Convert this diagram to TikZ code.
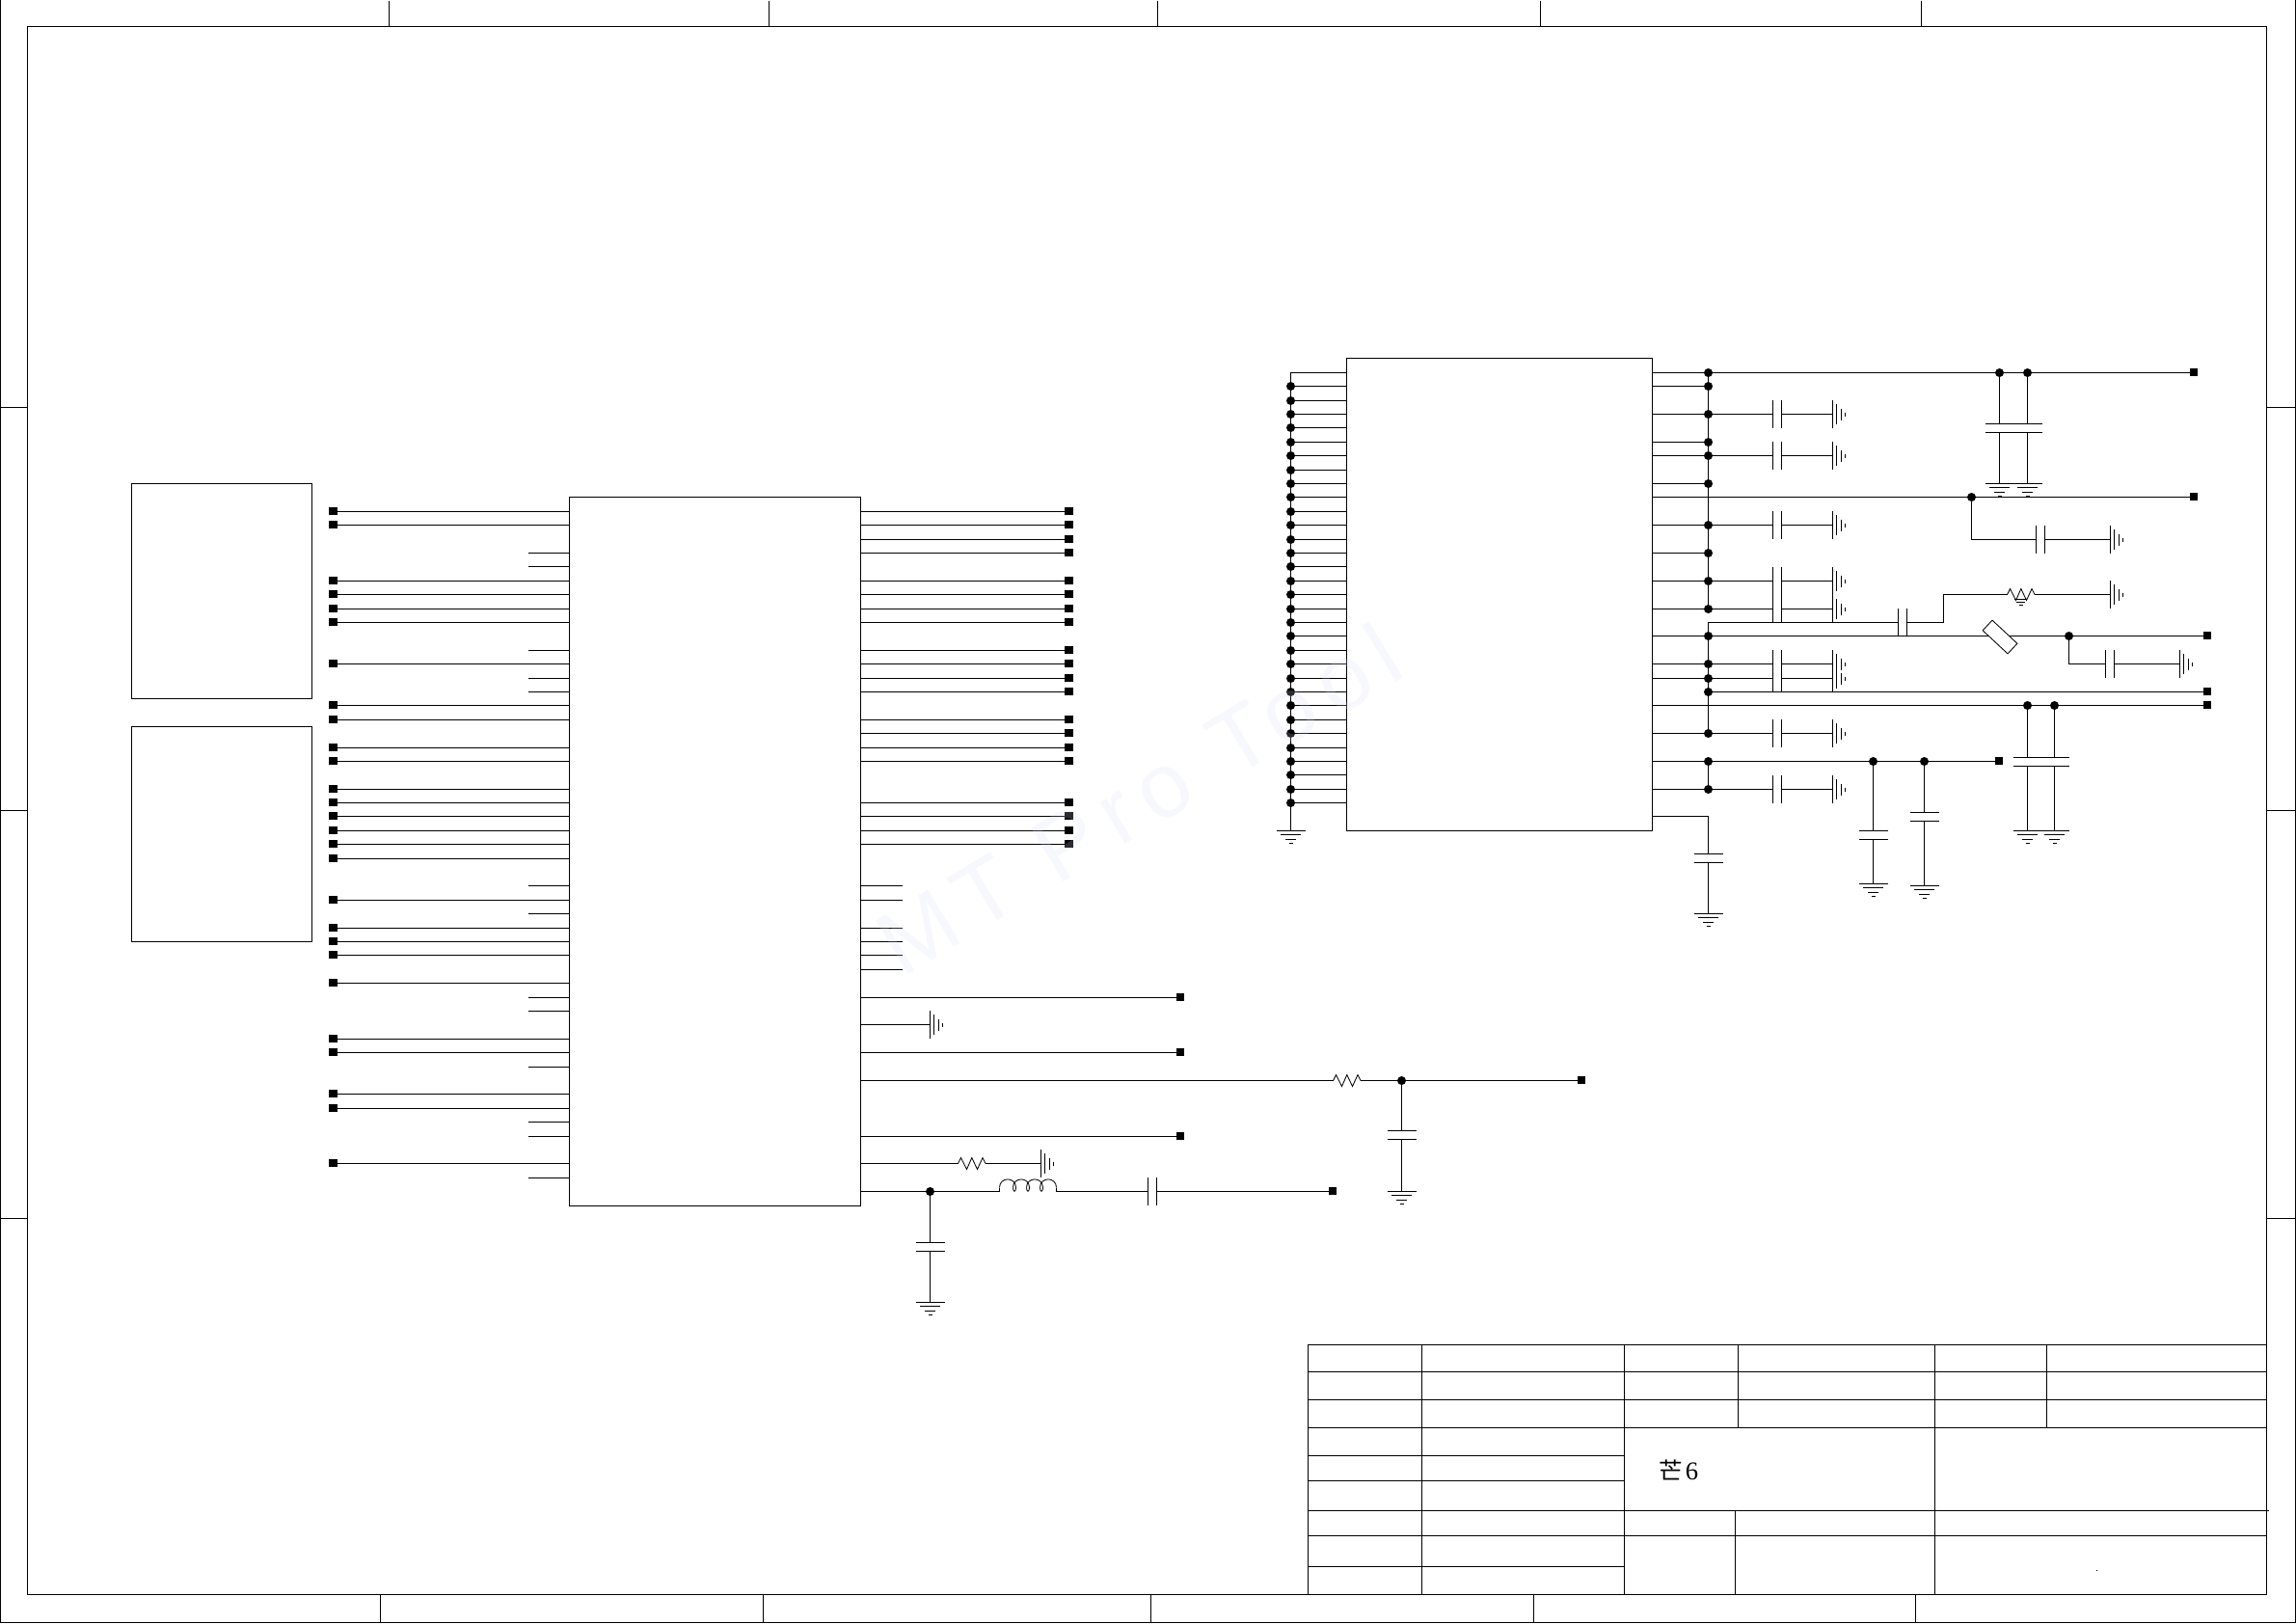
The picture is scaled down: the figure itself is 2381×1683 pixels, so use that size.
\documentclass[tikz,border=0pt]{standalone}
\usepackage{fontspec}
\setmainfont{Liberation Serif}
\newfontfamily\cjkfont{Noto Sans CJK SC}
\newfontfamily\wmfont[LetterSpace=14]{Liberation Sans}
\definecolor{wmblue}{RGB}{215,220,245}
\tikzset{
  wire/.style={line width=.6pt},
  thinw/.style={line width=.42pt},
  chip/.style={draw,line width=.6pt,inner sep=0pt,outer sep=0pt},
  termbig/.style={fill=black,inner sep=0pt,outer sep=0pt,minimum width=4.5pt,minimum height=4pt},
  term/.style={fill=black,inner sep=0pt,outer sep=0pt,minimum width=4pt,minimum height=4pt},
  junc/.style={circle,fill=black,inner sep=0pt,outer sep=0pt,minimum size=4.5pt},
}
% horizontal series capacitor: name, left-plate x, y  (coordinates name-l / name-r)
\newcommand\hcapx[3]{\coordinate (#1-l) at (#2,#3);\coordinate (#1-r) at ({#2+9},#3);
  \draw[wire,shift={(#2,#3)}] (0,-14.5)--(0,14.5) (9,-14.5)--(9,14.5);}
% vertical capacitor: name, x, top-plate y, plate gap
\newcommand\vcapx[4]{\coordinate (#1-t) at (#2,#3);\coordinate (#1-b) at (#2,{#3+#4});
  \draw[wire,shift={(#2,#3)}] (-15,0)--(15,0) (-15,#4)--(15,#4);}
% ground symbols
\newcommand\gndr[3]{\coordinate (#1) at (#2,#3);
  \draw[wire,shift={(#2,#3)}] (0,-14.5)--(0,14.5) (4,-10.5)--(4,10.5) (9,-6)--(9,6) (13,-2)--(13,2);}
\newcommand\gndd[3]{\coordinate (#1) at (#2,#3);
  \draw[wire,shift={(#2,#3)}] (-15,0)--(15,0) (-10.5,4)--(10.5,4) (-5.5,9)--(5.5,9) (-2,13)--(2,13);}
% zigzag resistor: name, left x, y
\newcommand\resx[3]{\coordinate (#1-l) at (#2,#3);\coordinate (#1-r) at ({#2+28.5},#3);
  \draw[thinw,shift={(#2,#3)}] (0,0)--(3,-6)--(9,6)--(14.3,-6)--(20,6)--(25.5,-6)--(28.5,0);}
\begin{document}
\begin{tikzpicture}[x=.5pt,y=-.5pt]
\useasboundingbox (0,0) rectangle (2381,1683);
\begin{scope}[shift={(0.5,0.5)}]
% ---------- frame
\draw[wire] (0,-1)--(0,1682)--(2380,1682)--(2380,-1);
\node[chip,minimum width=1161pt,minimum height=813pt] (frame) at (1189,840) {};
\foreach \x in {403,797,1200,1597,1992} \draw[wire] (\x,0)--(\x,27);
\foreach \x in {394,791,1193,1590,1986} \draw[wire] (\x,1653)--(\x,1682);
\foreach \y in {422,840,1263} {\draw[wire] (0,\y)--(28,\y); \draw[wire] (2350,\y)--(2380,\y);}
% ---------- left boxes and main chip
\node[chip,minimum width=93.5pt,minimum height=111.5pt] (boxa) at (229.5,612.5) {};
\node[chip,minimum width=93.5pt,minimum height=111.5pt] (boxb) at (229.5,864.5) {};
\node[chip,minimum width=151pt,minimum height=367.5pt] (ica) at (741,882.5) {};
\node[chip,minimum width=158.5pt,minimum height=245pt] (icb) at (1554.5,616) {};
% left side of main chip
\foreach \y in {530,544,602,616,631,645,688,731,746,775,789,818,832,846,861,875,890,933,962,976,990,1019,1077,1091,1134,1149,1206}{
  \node[termbig] (tl\y) at (345,\y-.5) {};
  \coordinate (rl\y) at (0,\y);
  \draw[wire] (tl\y.center |- rl\y) -- (ica.west |- rl\y);}
\foreach \y in {573,587,674,703,717,918,947,1034,1048,1106,1163,1178,1221}{
  \coordinate (sl\y) at (547,\y);
  \draw[wire] (sl\y) -- (ica.west |- sl\y);}
% right side of main chip
\foreach \y in {530,544,559,573,602,616,631,645,674,688,703,717,746,760,775,789,832,846,861,875}{
  \node[termbig] (tr\y) at (1108,\y-.5) {};
  \coordinate (rr\y) at (0,\y);
  \draw[wire] (ica.east |- rr\y) -- (tr\y.center |- rr\y);}
\foreach \y in {918,933,962,976,990,1005}{
  \coordinate (sr\y) at (935,\y);
  \draw[wire] (ica.east |- sr\y) -- (sr\y);}
\foreach \y in {1034,1091,1178}{
  \node[term] (tm\y) at (1223.5,\y-.5) {};
  \coordinate (rm\y) at (0,\y);
  \draw[wire] (ica.east |- rm\y) -- (tm\y.center |- rm\y);}
% row 1062 ground
\gndr{g1062}{964}{1062}
\draw[wire] (ica.east |- g1062) -- (g1062);
% row 1120
\resx{r1120}{1382}{1120}
\node[junc] (j1120) at (1453,1120) {};
\node[term] (t1120) at (1639.5,1119.5) {};
\draw[wire] (ica.east |- r1120-l) -- (r1120-l);
\draw[wire] (r1120-r) -- (j1120) -- (j1120 -| t1120);
\vcapx{c1120}{1453}{1172}{9}
\gndd{g1120}{1453}{1235}
\draw[wire] (j1120) -- (c1120-t) (c1120-b) -- (g1120);
% row 1206
\resx{r1206}{993}{1206}
\gndr{g1206}{1079}{1206}
\draw[wire] (ica.east |- r1206-l) -- (r1206-l);
\draw[wire] (r1206-r) -- (g1206);
% row 1235
\node[junc] (j1235) at (964,1235) {};
\draw[wire] (ica.east |- j1235) -- (j1235);
\coordinate (la) at (1036,1235);\coordinate (lb) at (1095,1235);
\draw[wire] (j1235) -- (la) -- (1036,1231);
\foreach \x in {1036,1050,1064}{
  \draw[thinw] (\x,1231) .. controls (\x,1219.5) and ({\x+17},1219.5) .. ({\x+17},1231)
     .. controls ({\x+17},1236) and ({\x+14},1236) .. ({\x+14},1231);}
\draw[thinw] (1078,1231) .. controls (1078,1219.5) and (1095,1219.5) .. (1095,1231);
\hcapx{c1235}{1190}{1235}
\node[term] (t1235) at (1381.5,1234.5) {};
\draw[wire] (1095,1231) -- (lb) -- (c1235-l) (c1235-r) -- (c1235-r -| t1235);
\vcapx{c964}{964}{1288}{9}
\gndd{g964}{964}{1350}
\draw[wire] (j1235) -- (c964-t) (c964-b) -- (g964);
% ---------- left side of second chip
\coordinate (busl) at (1338,386);
\gndd{gbus}{1338}{861}
\draw[wire] (icb.west |- busl) -- (busl) -- (gbus);
\foreach \y in {400,415,429,443,458,472,487,501,515,530,544,559,573,587,602,616,631,645,659,674,688,703,717,731,746,760,775,789,803,818,832}{
  \node[junc] (jb\y) at (1338,\y) {};
  \draw[wire] (jb\y) -- (icb.west |- jb\y);}
% ---------- right side of second chip
\foreach \y in {386,400,429,458,472,501,544,573,602,631,659,688,703,717,760,789,818}{
  \node[junc] (j\y) at (1771,\y) {};}
\foreach \y in {386,400,429,458,472,501,544,573,602,631,659,688,703,760,789,818}{
  \draw[wire] (icb.east |- j\y) -- (j\y);}
\draw[wire] (j386) -- (j631);
\draw[wire] (j659) -- (j760);
\draw[wire] (j789) -- (j818);
% cap + ground branches
\foreach \y in {429,472,544,602,631,688,703,760,818}{
  \hcapx{cb\y}{1838}{\y}
  \gndr{gb\y}{1900}{\y}
  \draw[wire] (j\y) -- (cb\y-l) (cb\y-r) -- (gb\y);}
% row 386
\node[junc] (ja) at (2073,386) {};
\node[junc] (jc) at (2102,386) {};
\node[term] (t386) at (2274.5,385.5) {};
\draw[wire] (j386) -- (ja) -- (jc) -- (jc -| t386);
\vcapx{ca}{2073}{439}{9}
\vcapx{cc}{2102}{439}{9}
\gndd{ga}{2073}{501}
\gndd{gc}{2102}{501}
\draw[wire] (ja)--(ca-t) (ca-b)--(ga) (jc)--(cc-t) (cc-b)--(gc);
% row 515
\node[junc] (j515) at (2044,515) {};
\node[term] (t515) at (2274.5,514.5) {};
\draw[wire] (icb.east |- j515) -- (j515) -- (j515 -| t515);
\coordinate (k559) at (2044,559);
\hcapx{c559}{2111}{559}
\gndr{g559}{2188}{559}
\draw[wire] (j515) -- (k559) -- (c559-l) (c559-r) -- (g559);
% row 645 / 616
\coordinate (k645) at (1771,645);
\hcapx{c645}{1968}{645}
\coordinate (k645r) at (2015,645);
\coordinate (k616) at (2015,616);
\resx{r616}{2081}{616}
\gndr{g616}{2188}{616}
\draw[wire] (j659) -- (k645) -- (c645-l) (c645-r) -- (k645r) -- (k616) -- (r616-l) (r616-r) -- (g616);
\draw[thinw] (2088.5,621)--(2101.5,621) (2090.5,624)--(2099.5,624) (2093,627)--(2097,627);
% row 659 with fuse
\node[junc] (j2145) at (2145,659) {};
\node[term] (t659) at (2288.5,658.5) {};
\draw[wire] (j659) -- (2074,659) -- (j2145) -- (j2145 -| t659);
\node[draw,thinw,fill=white,inner sep=0pt,outer sep=0pt,minimum width=17.7pt,minimum height=7.25pt,rotate=-43] (fuse) at (2073.5,660) {};
\coordinate (k688) at (2145,688);
\hcapx{c688}{2183}{688}
\gndr{g688}{2260}{688}
\draw[wire] (j2145) -- (k688) -- (c688-l) (c688-r) -- (g688);
% row 717
\node[term] (t717) at (2288.5,716.5) {};
\draw[wire] (j717) -- (j717 -| t717);
% row 731
\node[junc] (jd) at (2102,731) {};
\node[junc] (je) at (2130,731) {};
\node[term] (t731) at (2288.5,730.5) {};
\draw[wire] (icb.east |- jd) -- (jd) -- (je) -- (je -| t731);
\vcapx{cd}{2102}{785}{9}
\vcapx{ce}{2130}{785}{9}
\gndd{gd}{2102}{861}
\gndd{ge}{2130}{861}
\draw[wire] (jd)--(cd-t) (cd-b)--(gd) (je)--(ce-t) (ce-b)--(ge);
% row 789
\node[junc] (jf) at (1942,789) {};
\node[junc] (jg) at (1995,789) {};
\node[term] (t789) at (2072.5,788.5) {};
\draw[wire] (j789) -- (jf) -- (jg) -- (jg -| t789);
\vcapx{cf}{1942}{861}{9}
\vcapx{cg}{1995}{842}{9}
\gndd{gf}{1942}{916}
\gndd{gg}{1995}{918}
\draw[wire] (jf)--(cf-t) (cf-b)--(gf) (jg)--(cg-t) (cg-b)--(gg);
% row 846
\coordinate (k846) at (1771,846);
\vcapx{ch}{1771}{885}{9}
\gndd{gh}{1771}{947}
\draw[wire] (icb.east |- k846) -- (k846) -- (ch-t) (ch-b) -- (gh);
% ---------- title block
\draw[wire] (1356,1394) rectangle (2350,1653);
\draw[wire] (1356,1422)--(2350,1422) (1356,1451)--(2350,1451) (1356,1480)--(2350,1480)
  (1356,1509)--(1684,1509) (1356,1535)--(1684,1535) (1356,1566)--(2352,1566)
  (1356,1592)--(2350,1592) (1356,1624)--(1684,1624);
\draw[wire] (1474,1394)--(1474,1653) (1684,1394)--(1684,1653) (1802,1394)--(1802,1480)
  (2006,1394)--(2006,1653) (2122,1394)--(2122,1480) (1799,1566)--(1799,1653);
\fill (2173,1627) rectangle (2174,1628.2);
\node[anchor=west,inner sep=0pt,font=\fontsize{12.25}{14}\selectfont] (title) at (1720,1524) {{\cjkfont 芒}\hspace{1.2pt}{\fontsize{13.3}{14}\selectfont 6}};
% ---------- watermark
\node[rotate=31,opacity=.2,text=wmblue,inner sep=0pt,font=\wmfont\fontsize{47}{50}\selectfont] (wm) at (1180,828) {MT Pro Tool};
\end{scope}
\end{tikzpicture}
\end{document}
